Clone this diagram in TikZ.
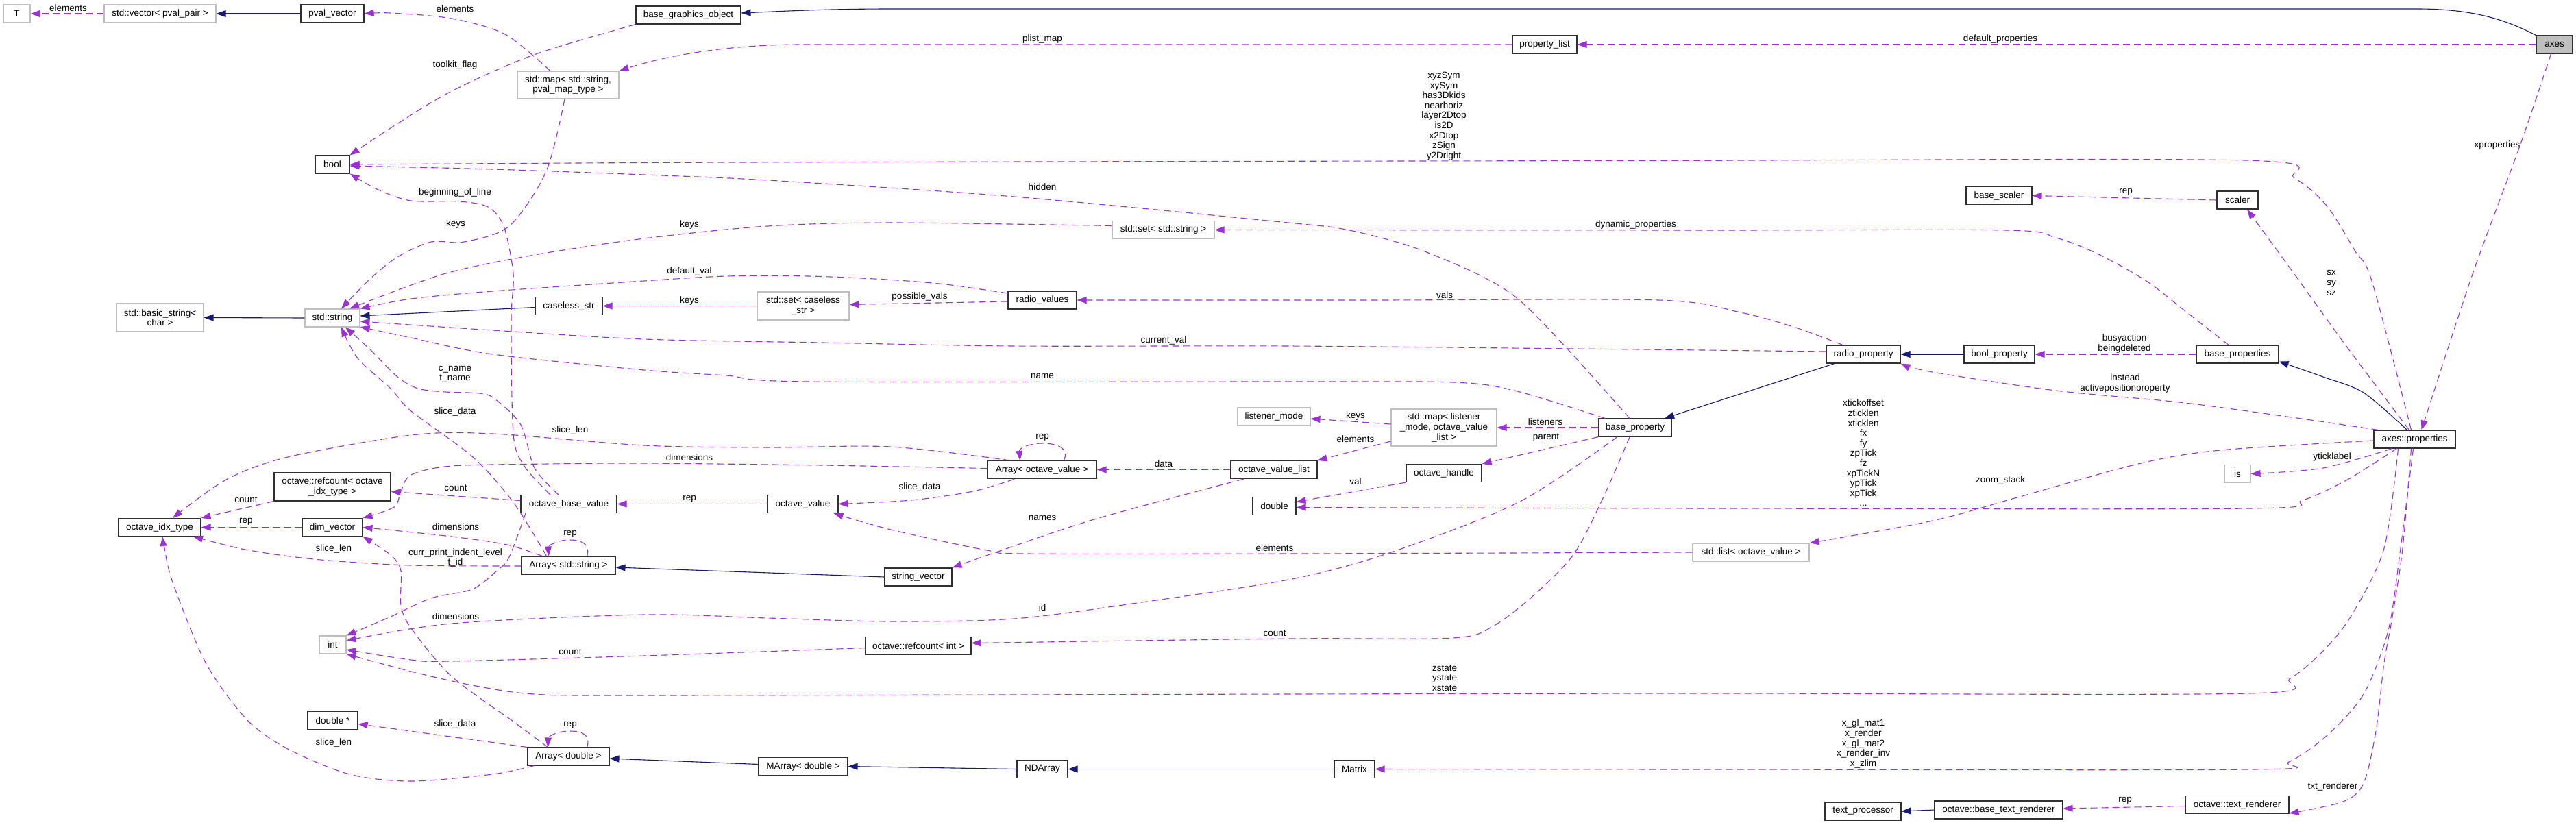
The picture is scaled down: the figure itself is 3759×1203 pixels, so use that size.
\documentclass[tikz,border=0pt]{standalone}
\usepackage{fontspec}
\setmainfont{Liberation Sans}
\usetikzlibrary{arrows.meta}
\definecolor{usec}{HTML}{9A32CD}
\definecolor{inhc}{HTML}{191970}
\definecolor{grayb}{HTML}{BFBFBF}
\definecolor{boxb}{HTML}{303030}
\begin{document}
\begin{tikzpicture}[x=1pt,y=-1pt,
 font=\fontsize{13.5}{14.6}\selectfont,
 box/.style={draw=boxb,line width=1.1pt,fill=white,inner sep=0pt,align=center,minimum height=26pt},
 gbox/.style={draw=grayb,line width=1.1pt,fill=white,inner sep=0pt,align=center,minimum height=26pt},
 uedge/.style={draw=usec,line width=1.1pt,dash pattern=on 10pt off 6pt,-{Triangle[length=14pt,width=10pt]}},
 iedge/.style={draw=inhc,line width=1.1pt,-{Triangle[length=14pt,width=10pt]}},
 lbl/.style={inner sep=0pt,align=center}]
\fill[white] (0,0) rectangle (3759,1203);
\useasboundingbox (0,0) rectangle (3759,1203);

% ---------------- nodes
\node[gbox,minimum width=39pt] (T) at (24.5,20) {T};
\node[gbox,minimum width=163pt] (vecpp) at (233.5,20) {std::vector< pval\_pair >};
\node[box,minimum width=92pt] (pvalvec) at (485,20) {pval\_vector};
\node[box,minimum width=153pt] (bgo) at (1004.5,22) {base\_graphics\_object};
\node[box,minimum width=94pt] (plist) at (2254,65) {property\_list};
\node[box,fill=grayb,minimum width=53pt] (axes) at (3727.5,65) {axes};
\node[gbox,minimum width=148pt,minimum height=40pt] (pmap) at (829,124) {std::map< std::string,\\pval\_map\_type >};
\node[box,minimum width=50pt] (bool) at (485,240) {bool};
\node[gbox,minimum width=149pt] (setstr) at (1697.5,335.5) {std::set< std::string >};
\node[box,minimum width=60pt] (scaler) at (3265,292) {scaler};
\node[box,minimum width=96pt] (bscaler) at (2917,285.5) {base\_scaler};
\node[gbox,minimum width=127pt,minimum height=41pt] (bstring) at (233.5,463.5) {std::basic\_string<\\char >};
\node[gbox,minimum width=80pt] (string) at (485,464) {std::string};
\node[box,minimum width=98pt] (caseless) at (830,446.5) {caseless\_str};
\node[gbox,minimum width=134pt,minimum height=41pt] (setcl) at (1172,446.5) {std::set< caseless\\\_str >};
\node[box,minimum width=100pt] (radiov) at (1521,438) {radio\_values};
\node[box,minimum width=108pt] (radiop) at (2719,517) {radio\_property};
\node[box,minimum width=103pt] (boolp) at (2917.5,517) {bool\_property};
\node[box,minimum width=120pt] (bprops) at (3265,517) {base\_properties};
\node[box,minimum width=119pt] (aprops) at (3523.5,641) {axes::properties};
\node[gbox,minimum width=106pt] (lmode) at (1859,608) {listener\_mode};
\node[gbox,minimum width=154pt,minimum height=54pt] (lmap) at (2107,624) {std::map< listener\\\_mode, octave\_value\\\_list >};
\node[box,minimum width=106pt] (bprop) at (2386,624) {base\_property};
\node[gbox,minimum width=38pt] (is) at (3265,691.5) {is};
\node[box,minimum width=159pt] (arrov) at (1520.5,685.5) {Array< octave\_value >};
\node[box,minimum width=126pt] (ovl) at (1859,685.5) {octave\_value\_list};
\node[box,minimum width=110pt] (ohandle) at (2107,690.5) {octave\_handle};
\node[box,minimum width=63pt] (double) at (1859.5,738.5) {double};
\node[box,minimum width=170pt,minimum height=41pt] (rcidx) at (485,710.5) {octave::refcount< octave\\\_idx\_type >};
\node[box,minimum width=140pt] (obv) at (830,735.5) {octave\_base\_value};
\node[box,minimum width=103pt] (ov) at (1171.5,735.5) {octave\_value};
\node[box,minimum width=120pt] (idx) at (233,769.5) {octave\_idx\_type};
\node[box,minimum width=88pt] (dimv) at (485,769.5) {dim\_vector};
\node[box,minimum width=137pt] (arrs) at (829.5,825) {Array< std::string >};
\node[box,minimum width=98pt] (strvec) at (1340,842) {string\_vector};
\node[gbox,minimum width=170pt] (listov) at (2555,806) {std::list< octave\_value >};
\node[gbox,minimum width=39pt] (int) at (485.5,941) {int};
\node[box,minimum width=154pt] (rcint) at (1340,942.5) {octave::refcount< int >};
\node[box,minimum width=73pt] (dptr) at (485.5,1051.5) {double *};
\node[box,minimum width=119pt] (arrd) at (829.5,1104) {Array< double >};
\node[box,minimum width=130pt] (marr) at (1172,1118.5) {MArray< double >};
\node[box,minimum width=74pt] (nda) at (1521,1122.5) {NDArray};
\node[box,minimum width=59pt] (matrix) at (1976.5,1122.5) {Matrix};
\node[box,minimum width=111pt] (tproc) at (2718.5,1184) {text\_processor};
\node[box,minimum width=187pt] (btr) at (2916.5,1182) {octave::base\_text\_renderer};
\node[box,minimum width=151pt] (tr) at (3264.5,1174.5) {octave::text\_renderer};

% ---------------- inheritance
\draw[iedge] (pvalvec.west) -- (vecpp.east);
\draw[iedge] (axes.north west) .. controls (3650,25) and (3600,13) .. (3527,13) -- (1300,13) .. controls (1200,13) and (1130,17) .. ([yshift=3pt]bgo.east);
\draw[iedge] (string.west) -- (bstring.east);
\draw[iedge] ([yshift=-2pt]caseless.west) -- ([yshift=3pt]string.east);
\draw[iedge] (boolp.west) -- (radiop.east);
\draw[iedge] plot[smooth] coordinates {([xshift=-11pt]aprops.north) (3449,573) (3390,550) ([yshift=3pt]bprops.south east)};
\draw[iedge] ([xshift=-42pt]radiop.south) -- ([xshift=43pt]bprop.north);
\draw[iedge] (strvec.west) -- ([yshift=-3pt]arrs.east);
\draw[iedge] ([yshift=3pt]marr.west) -- ([yshift=-3pt]arrd.east);
\draw[iedge] (nda.west) -- (marr.east);
\draw[iedge] (matrix.west) -- (nda.east);
\draw[iedge] (btr.west) -- (tproc.east);

% ---------------- usage
\draw[uedge] (vecpp.west) -- (T.east);
\draw[uedge] plot[smooth] coordinates {([xshift=-26pt]pmap.north) (737,50) (659,27) (570,19) (pvalvec.east)};
\draw[uedge] plot[smooth] coordinates {(bgo.south west) (779,80) (659,133) (576,183) (bool.north east)};
\draw[uedge] (plist.west) -- (1170,65) .. controls (1050,65) and (960,85) .. (pmap.north east);
\draw[uedge] (axes.west) -- (plist.east);
\draw[uedge] plot[smooth] coordinates {([xshift=-5pt]axes.south) (3677,213) (3608,400) ([xshift=10pt]aprops.north)};
\draw[uedge] plot[smooth] coordinates {([xshift=-5pt]aprops.north) (3461,410) (3437,367) (3395,300) (3348,260) (3276,234) (2400,234.5) (1500,236) (940,237.5) (bool.east)};
\draw[uedge] plot[smooth] coordinates {([xshift=-8pt]bprop.north) (2288,510) (2216,437) (2156,400) (2060,360) (1964,335) (1880,325) (1480,287) (1120,263) (940,255) (719,247) ([yshift=-2pt]bool.east)};
\draw[uedge] plot[smooth] coordinates {([yshift=6pt]setstr.west) (1300,325) (1120,330) (940,348) (780,372) (647,400) ([xshift=25pt]string.north)};
\draw[uedge] plot[smooth] coordinates {([xshift=-5pt]pmap.south) (797,250) (743,330) (677,353) (629,353) (580,375) (540,407) ([xshift=13pt]string.north)};
\draw[uedge] plot[smooth] coordinates {([xshift=-27pt]obv.north) (765,680) (749,633) (746,467) (749,400) (735,330) (712,302) (670,294) (600,293) (552,277) (bool.south east)};
\draw[uedge] (setcl.west) -- (caseless.east);
\draw[uedge] ([yshift=-2pt]radiov.west) -- ([yshift=2pt]setcl.east);
\draw[uedge] plot[smooth] coordinates {([yshift=10pt]radiov.west) (1380,415) (1294,408) (1180,403) (1060,403) (940,410) (719,425) (600,436) (string.north east)};
\draw[uedge] plot[smooth] coordinates {([xshift=-30pt]radiop.north) (2620,478) (2540,456) (2420,438) (2000,438) (radiov.east)};
\draw[uedge] plot[smooth] coordinates {([yshift=4pt]radiop.west) (2300,509) (1880,505) (1480,505) (1200,500) (940,495) (719,482) ([yshift=-5pt]string.east)};
\draw[uedge] plot[smooth] coordinates {([xshift=-44pt]bprop.north) (2210,570) (2120,558) (1880,557) (1180,557) (1060,548) (940,540) (719,517) (600,493) ([yshift=-13pt]string.east)};
\draw[uedge] (bprops.west) -- (boolp.east);
\draw[uedge] plot[smooth] coordinates {([xshift=-13pt]bprops.north) (3190,455) (3132,410) (3060,370) (3000,347) (2928,336) (2500,336) (setstr.east)};
\draw[uedge] plot[smooth] coordinates {([xshift=-8pt]aprops.north) (3420,500) (3348,400) ([xshift=14pt]scaler.south)};
\draw[uedge] (scaler.west) -- (bscaler.east);
\draw[uedge] plot[smooth] coordinates {([xshift=-53pt]aprops.north) (3330,607) (3180,587) (3000,570) (2820,543) (radiop.south east)};
\draw[uedge] (bprop.west) -- (lmap.east);
\draw[uedge] ([yshift=5pt]lmap.west) -- ([yshift=-3pt]lmode.east);
\draw[uedge] ([yshift=-20pt]lmap.west) -- (ovl.north east);
\draw[uedge] (bprop.south west) -- (ohandle.north east);
\draw[uedge] (ohandle.south west) -- ([yshift=6pt]double.east);
\draw[uedge] plot[smooth] coordinates {([xshift=-26pt]aprops.south) (3458,680) (3420,703) (3360,730) (3282,742) (2500,742) ([yshift=-2pt]double.east)};
\draw[uedge] plot[smooth] coordinates {([xshift=-33pt]aprops.south) (3390,683) (is.east)};
\draw[uedge] plot[smooth] coordinates {([yshift=-2pt]aprops.west) (3240,657) (3120,677) (2940,727) (2820,760) (listov.north east)};
\draw[uedge] plot[smooth] coordinates {(listov.west) (1880,808) (1500,808) (1440,803) (1300,773) ([xshift=-7pt]ov.south east)};
\draw[uedge] (ov.west) -- (obv.east);
\draw[uedge] plot[smooth] coordinates {([xshift=-40pt]arrov.south) (1420,717) (1330,730) (ov.east)};
\draw[uedge] ([xshift=32pt]arrov.north) .. controls (1560,655) and (1545,647) .. (1521,647) .. controls (1500,647) and (1487,655) .. ([xshift=-32pt]arrov.north);
\draw[uedge] (ovl.west) -- (arrov.east);
\draw[uedge] plot[smooth] coordinates {([xshift=-44pt]ovl.south) (1600,757) (1456,805) (strvec.north east)};
\draw[uedge] plot[smooth] coordinates {([yshift=2pt]arrov.west) (1200,679) (940,676) (800,677) (659,680) (600,693) (585,717) (575,740) (dimv.north east)};
\draw[uedge] plot[smooth] coordinates {([xshift=-46pt]arrov.north) (1300,652) (1120,653) (940,650) (719,633) (600,635) (420,667) (330,700) ([xshift=19pt]idx.north)};
\draw[uedge] (rcidx.south west) -- (idx.north east);
\draw[uedge] (dimv.west) -- (idx.east);
\draw[uedge] ([yshift=5pt]obv.west) -- ([yshift=-7pt]rcidx.east);
\draw[uedge] plot[smooth] coordinates {([xshift=-15pt]obv.north) (780,683) (760,620) (722,582) (700,574) (650,572) (610,567) (580,550) (540,510) ([xshift=19pt]string.south)};
\draw[uedge] plot[smooth] coordinates {([xshift=-32pt]arrs.north) (749,733) (690,667) (600,600) (570,567) (522,523) ([xshift=13pt]string.south)};
\draw[uedge] plot[smooth] coordinates {([xshift=-63pt]obv.south) (743,813) (725,833) (689,860) (629,873) (570,900) (int.north east)};
\draw[uedge] plot[smooth] coordinates {([xshift=-38pt]arrs.north) (740,795) (659,783) (dimv.east)};
\draw[uedge] ([xshift=27pt]arrs.north) .. controls (862,795) and (850,788) .. (831,788) .. controls (812,788) and (800,797) .. ([xshift=-29pt]arrs.north);
\draw[uedge] plot[smooth] coordinates {([yshift=-1pt]arrs.west) (600,825) (480,818) (408,810) (348,800) ([xshift=49pt]idx.south)};
\draw[uedge] plot[smooth] coordinates {([xshift=-26pt]bprop.south) (2216,733) (2024,808) (1880,846) (1659,880) (1480,903) (1300,907) (1120,902) (940,897) (659,910) ([yshift=6pt]int.east)};
\draw[uedge] plot[smooth] coordinates {([xshift=-8pt]bprop.south) (2340,725) (2297,808) (2240,867) (2180,913) (2120,931) (1880,932) ([yshift=4pt]rcint.east)};
\draw[uedge] plot[smooth] coordinates {([yshift=-3pt]rcint.west) (940,957) (659,965) (600,963) ([yshift=-7pt]int.east)};
\draw[uedge] plot[smooth] coordinates {([xshift=-24pt]aprops.south) (3479,800) (3432,897) (3390,950) (3342,990) (3281,1012) (2500,1012) (1880,1013) (940,1015) (779,1013) (689,1000) (600,980) (int.south east)};
\draw[uedge] plot[smooth] coordinates {([xshift=-2pt]aprops.south) (3503,800) (3485,920) (3449,1013) (3396,1073) (3340,1112) (3288,1123) (2500,1123) (matrix.east)};
\draw[uedge] plot[smooth] coordinates {([xshift=-5pt]aprops.south) (3506,800) (3491,900) (3479,967) (3467,1067) (3449,1143) (3419,1170) ([yshift=1pt]tr.south east)};
\draw[uedge] ([yshift=-2pt]tr.west) -- ([yshift=2pt]btr.east);
\draw[uedge] (arrd.north west) -- ([yshift=-5pt]dptr.east);
\draw[uedge] ([xshift=27pt]arrd.north) .. controls (862,1074) and (852,1067) .. (832,1067) .. controls (812,1067) and (800,1075) .. ([xshift=-30pt]arrd.north);
\draw[uedge] plot[smooth] coordinates {([xshift=-50pt]arrd.south) (719,1130) (600,1140) (510,1130) (420,1093) (360,1050) (300,967) (252,850) (240,800) ([xshift=4pt]idx.south)};
\draw[uedge] plot[smooth] coordinates {([xshift=-30pt]arrd.north) (749,1053) (659,987) (600,917) (585,883) (585,833) (570,810) (dimv.south east)};

% ---------------- labels
\node[lbl] (l01) at (99.5,12) {elements};
\node[lbl] (l02) at (664,13) {elements};
\node[lbl] (l03) at (664,95) {toolkit\_flag};
\node[lbl] (l04) at (1521,57) {plist\_map};
\node[lbl] (l05) at (2919,57) {default\_properties};
\node[lbl] (l06) at (2107,169.5) {xyzSym\\xySym\\has3Dkids\\nearhoriz\\layer2Dtop\\is2D\\x2Dtop\\zSign\\y2Dright};
\node[lbl] (l07) at (3644,212) {xproperties};
\node[lbl] (l08) at (1521,273) {hidden};
\node[lbl] (l09) at (664,281) {beginning\_of\_line};
\node[lbl] (l10) at (665,327) {keys};
\node[lbl] (l11) at (1006,328) {keys};
\node[lbl] (l12) at (2387,328) {dynamic\_properties};
\node[lbl] (l13) at (3102,280) {rep};
\node[lbl] (l14) at (3402,413) {sx\\sy\\sz};
\node[lbl] (l15) at (1006,396) {default\_val};
\node[lbl] (l16) at (1006,439) {keys};
\node[lbl] (l17) at (1342,433) {possible\_vals};
\node[lbl] (l18) at (2108,431) {vals};
\node[lbl] (l19) at (1698,497) {current\_val};
\node[lbl] (l20) at (3100,501.5) {busyaction\\beingdeleted};
\node[lbl] (l21) at (1521,549) {name};
\node[lbl] (l22) at (3101,559.5) {instead\\activepositionproperty};
\node[lbl] (l23) at (664,546) {c\_name\\t\_name};
\node[lbl] (l24) at (664,601) {slice\_data};
\node[lbl] (l25) at (832,628) {slice\_len};
\node[lbl] (l26) at (1978,607) {keys};
\node[lbl] (l27) at (2255,616) {listeners};
\node[lbl] (l28) at (1978,641) {elements};
\node[lbl] (l29) at (2256,639) {parent};
\node[lbl] (l30) at (1521,638) {rep};
\node[lbl] (l31) at (1006,668) {dimensions};
\node[lbl] (l32) at (1698,677) {data};
\node[lbl] (l33) at (3403,667) {yticklabel};
\node[lbl] (l34) at (2919,701) {zoom\_stack};
\node[lbl] (l35) at (1978,703) {val};
\node[lbl] (l36) at (1342,711) {slice\_data};
\node[lbl] (l37) at (665,712) {count};
\node[lbl] (l38) at (359,729) {count};
\node[lbl] (l39) at (1006,728) {rep};
\node[lbl] (l40) at (2719,661) {xtickoffset\\zticklen\\xticklen\\fx\\fy\\zpTick\\fz\\xpTickN\\ypTick\\xpTick\\...};
\node[lbl] (l41) at (1521,756) {names};
\node[lbl] (l42) at (359,761) {rep};
\node[lbl] (l43) at (665,769) {dimensions};
\node[lbl] (l44) at (832,779) {rep};
\node[lbl] (l45) at (1860,800) {elements};
\node[lbl] (l46) at (487,801) {slice\_len};
\node[lbl] (l47) at (664.5,814) {curr\_print\_indent\_level\\t\_id};
\node[lbl] (l48) at (1521,887) {id};
\node[lbl] (l49) at (665,900) {dimensions};
\node[lbl] (l50) at (1860,924) {count};
\node[lbl] (l51) at (832,951) {count};
\node[lbl] (l52) at (2108,989.5) {zstate\\ystate\\xstate};
\node[lbl] (l53) at (664,1057) {slice\_data};
\node[lbl] (l54) at (832,1058) {rep};
\node[lbl] (l55) at (487,1084) {slice\_len};
\node[lbl] (l56) at (2719,1085.5) {x\_gl\_mat1\\x\_render\\x\_gl\_mat2\\x\_render\_inv\\x\_zlim};
\node[lbl] (l57) at (3404,1148) {txt\_renderer};
\node[lbl] (l58) at (3101,1168) {rep};
\end{tikzpicture}
\end{document}
